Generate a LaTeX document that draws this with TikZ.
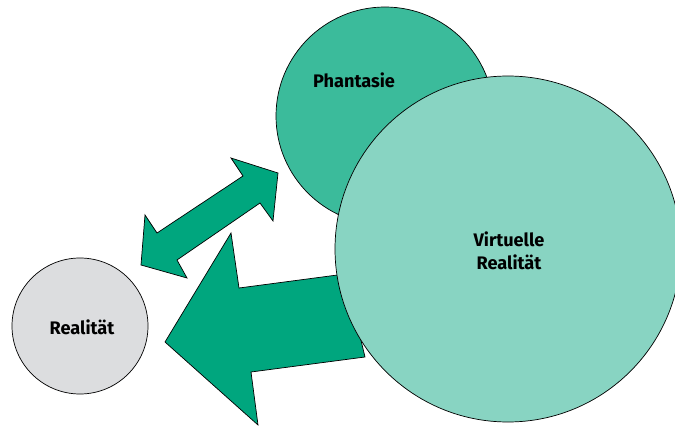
\documentclass[tikz,border=0pt]{standalone}
\usepackage{fontspec}
\setmainfont{Fira Sans}
\usetikzlibrary{positioning}
\definecolor{arrowgreen}{RGB}{0, 166, 126}
\definecolor{phantgreen}{RGB}{59, 187, 155}
\definecolor{virtgreen}{RGB}{136, 212, 194}
\definecolor{realgray}{RGB}{220, 221, 223}

\begin{document}
\begin{tikzpicture}[x=0.03cm, y=-0.03cm,
    bubble/.style={circle, draw=black, line width=0.6pt, inner sep=0pt},
    blockarrow/.style={draw=black, line width=0.6pt, fill=arrowgreen, line join=miter},
    lbl/.style={font=\fontsize{15.5}{19.5}\selectfont\bfseries, align=center}]
    \useasboundingbox (0,0) rectangle (675,427);

    % Phantasie
    \node[bubble, fill=phantgreen, minimum size=218*0.03cm] (phant) at (385,116) {};
    \node[lbl] (phanttxt) at (354,80) {Phantasie};

    % double arrow Realitaet <-> Phantasie
    \draw[blockarrow] (278,173) -- (231,158) -- (243,176) -- (157,233) -- (145,215)
        -- (141,265) -- (187,278) -- (177,260) -- (260,203) -- (273,221) -- cycle;

    % big arrow from virtual reality
    \draw[blockarrow] (231,233) -- (239,288) -- (345,274) -- (365,357) -- (251,372)
        -- (258,425) -- (165,342) -- cycle;

    % Virtuelle Realitaet
    \node[bubble, fill=virtgreen, minimum size=346*0.03cm] (virt) at (508,249) {};
    \node[lbl] (virttxt) at (509,251) {Virtuelle\\Realität};

    % Realitaet
    \node[bubble, fill=realgray, minimum size=136*0.03cm] (real) at (80,326) {};
    \node[lbl] (realtxt) at (82,327) {Realität};
\end{tikzpicture}
\end{document}
